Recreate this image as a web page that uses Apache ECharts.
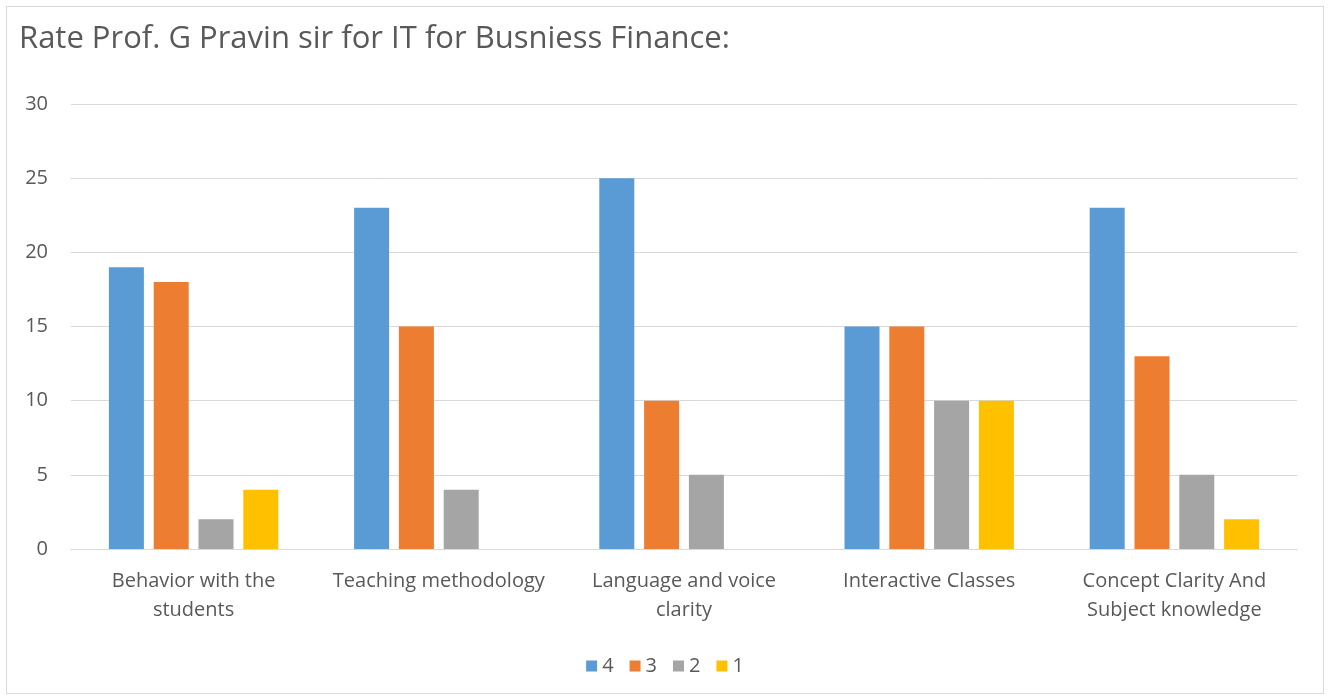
<!DOCTYPE html>
<html>
<head>
<meta charset="utf-8">
<script src="https://cdn.jsdelivr.net/npm/echarts@6/dist/echarts.min.js"></script>
<style>
  html, body { margin: 0; padding: 0; background: #fff; }
  #main { position: absolute; left: 6px; top: 6px; width: 1318px; height: 688px; border: 1px solid #d9d9d9; box-sizing: border-box; }
</style>
</head>
<body>
<div id="main"></div>
<script>
// categories on the x axis (line breaks as in the picture)
var categories = [
  'Behavior with the\nstudents',
  'Teaching methodology',
  'Language and voice\nclarity',
  'Interactive Classes',
  'Concept Clarity And\nSubject knowledge'
]
var seriesNames = ['4', '3', '2', '1']
var rating4 = [19, 23, 25, 15, 23]
var rating3 = [18, 15, 10, 15, 13]
var rating2 = [2, 4, 5, 10, 5]
var rating1 = [4, 0, 0, 10, 2]
var colors = ['#5B9BD5', '#ED7D31', '#A5A5A5', '#FFC000']

var font = 'Open Sans'
var myChart = echarts.init(document.getElementById('main'))
var allData = [rating4, rating3, rating2, rating1]
var series = []
for (var i = 0; i < seriesNames.length; i++) {
  series.push({
    name: seriesNames[i],
    type: 'bar',
    data: allData[i],
    barWidth: 35,
    barGap: '28%',
    itemStyle: { color: colors[i] }
  })
}
var option = {
  animation: false,
  color: colors,
  title: {
    text: 'Rate Prof. G Pravin sir for IT for Busniess Finance:',
    left: 7,
    top: 12,
    textStyle: { fontFamily: font, fontSize: 31, fontWeight: 'normal', color: '#595959' }
  },
  legend: {
    bottom: 12,
    left: 'center',
    itemWidth: 11,
    itemHeight: 11,
    itemGap: 16,
    icon: 'rect',
    textStyle: { fontFamily: font, fontSize: 20, color: '#595959' },
    data: seriesNames
  },
  grid: { left: 64, right: 26, top: 97, bottom: 144 },
  xAxis: {
    type: 'category',
    data: categories,
    axisTick: { show: false },
    axisLine: { lineStyle: { color: '#d9d9d9' } },
    axisLabel: { fontFamily: font, fontSize: 20, color: '#595959', margin: 18, lineHeight: 29, interval: 0 }
  },
  yAxis: {
    type: 'value',
    min: 0,
    max: 30,
    interval: 5,
    axisLabel: { fontFamily: font, fontSize: 20, color: '#595959', margin: 23 },
    splitLine: { lineStyle: { color: '#d9d9d9' } }
  },
  series: series
}
myChart.setOption(option)
</script>
</body>
</html>
